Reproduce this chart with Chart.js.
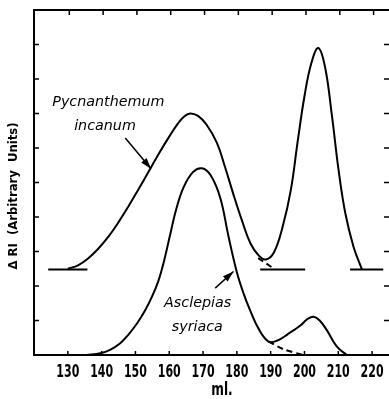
<!DOCTYPE html>
<html>
<head>
<meta charset="utf-8">
<script src="https://cdn.jsdelivr.net/npm/chart.js@4/dist/chart.umd.min.js"></script>
<style>
  body { margin: 0; background: #fff; }
  #wrap { width: 389px; height: 399px; }
</style>
</head>
<body>
<div id="wrap"><canvas id="riChart"></canvas></div>
<script>
// elution volume (ml) and detector response (arbitrary units)
const xTicks = [130, 140, 150, 160, 170, 180, 190, 200, 210, 220];
const yTicks = [1, 2, 3, 4, 5, 6, 7, 8, 9];

const pycX = [130, 133, 136, 139, 142, 145, 148, 151, 154, 157, 160, 162.5, 164.5, 166.2, 168.5, 171, 174.1, 176.5, 179, 181.5, 184, 186.5, 188.6, 191, 193.5, 196, 198, 200, 202, 204.1, 206.1, 208.1, 210.1, 212.1, 214.5, 217];
const pycY = [2.5, 2.6, 2.8, 3.08, 3.43, 3.85, 4.32, 4.82, 5.33, 5.85, 6.33, 6.7, 6.92, 7.0, 6.93, 6.68, 6.15, 5.45, 4.65, 3.9, 3.24, 2.88, 2.77, 2.98, 3.7, 4.8, 6.2, 7.5, 8.45, 8.9, 8.34, 6.95, 5.35, 4.1, 3.14, 2.48];
const pycDashX = [186.3, 191.3];
const pycDashY = [2.81, 2.48];
const pycBaseX = [[124.2, 135.8], [186.9, 200.2], [213.5, 223.3]];
const pycBaseY = 2.48;

const ascX = [135.5, 139.6, 142.5, 145.5, 148, 150.5, 152.8, 154.9, 156.8, 158.3, 160.3, 162, 164.2, 167, 169.7, 172.3, 175.1, 177.5, 180, 182, 183.9, 186.5, 189.4, 192, 195, 198.7, 201, 202.7, 204.5, 206.6, 209.6, 212.5];
const ascY = [0, 0.05, 0.15, 0.34, 0.6, 0.92, 1.28, 1.69, 2.15, 2.66, 3.5, 4.2, 4.85, 5.3, 5.41, 5.2, 4.55, 3.45, 2.4, 1.78, 1.3, 0.75, 0.39, 0.42, 0.6, 0.85, 1.05, 1.11, 1.0, 0.72, 0.24, 0];
const ascDashX = [189.4, 194, 199.7];
const ascDashY = [0.39, 0.16, 0];

// labels with their arrows (data units)
const labels = [
  { text: 'Pycnanthemum', x: 142, y: 7.33 },
  { text: 'incanum', x: 141, y: 6.64 },
  { text: 'Asclepias', x: 168.4, y: 1.51 },
  { text: 'syriaca', x: 168.3, y: 0.81 }
];
const arrows = [
  { from: [147.0, 6.29], to: [154.6, 5.4] },
  { from: [173.6, 1.94], to: [179.0, 2.42] }
];

const pts = (xs, ys) => xs.map((x, i) => ({ x: x, y: Array.isArray(ys) ? ys[i] : ys }));

const lineStyle = { borderColor: '#000', borderWidth: 2, pointRadius: 0, showLine: true, fill: false };

const datasets = [
  Object.assign({ data: pts(pycX, pycY), tension: 0.4 }, lineStyle),
  Object.assign({ data: pts(ascX, ascY), tension: 0.4 }, lineStyle),
  Object.assign({ data: pts(pycDashX, pycDashY), borderDash: [6, 4] }, lineStyle),
  Object.assign({ data: pts(ascDashX, ascDashY), borderDash: [6, 4], tension: 0.3 }, lineStyle)
];
pycBaseX.forEach(seg => datasets.push(Object.assign({ data: pts(seg, pycBaseY) }, lineStyle)));
arrows.forEach(a => datasets.push({ data: [{ x: a.from[0], y: a.from[1] }, { x: a.to[0], y: a.to[1] }], borderColor: '#000', borderWidth: 1.5, pointRadius: 0, showLine: true }));

// draw text squeezed horizontally, like the condensed lettering of the original
function squeezed(ctx, text, x, y, sx) {
  ctx.save();
  ctx.translate(x, y);
  ctx.scale(sx, 1);
  ctx.fillText(text, 0, 0);
  ctx.restore();
}

const extras = {
  id: 'extras',
  afterDraw(chart) {
    const ctx = chart.ctx;
    const xs = chart.scales.x, ys = chart.scales.y;
    const a = chart.chartArea;
    ctx.save();
    ctx.strokeStyle = '#000';
    ctx.fillStyle = '#000';
    // frame
    ctx.lineWidth = 2;
    ctx.beginPath();
    ctx.moveTo(a.right, a.top); ctx.lineTo(a.left, a.top); ctx.lineTo(a.left, a.bottom); ctx.lineTo(a.right, a.bottom);
    ctx.stroke();
    // inside ticks
    ctx.lineWidth = 1.5;
    ctx.beginPath();
    xTicks.forEach(v => {
      const px = xs.getPixelForValue(v);
      ctx.moveTo(px, a.bottom); ctx.lineTo(px, a.bottom - 4);
      ctx.moveTo(px + 1.5, a.top); ctx.lineTo(px + 1.5, a.top + 5);
    });
    yTicks.forEach(v => {
      const py = ys.getPixelForValue(v);
      ctx.moveTo(a.left, py); ctx.lineTo(a.left + 5, py);
      ctx.moveTo(a.right, py); ctx.lineTo(a.right - 5, py);
    });
    ctx.stroke();
    // arrow heads
    arrows.forEach(ar => {
      const x0 = xs.getPixelForValue(ar.from[0]), y0 = ys.getPixelForValue(ar.from[1]);
      const x1 = xs.getPixelForValue(ar.to[0]), y1 = ys.getPixelForValue(ar.to[1]);
      const ang = Math.atan2(y1 - y0, x1 - x0);
      const L = 11, W = 3.5;
      ctx.beginPath();
      ctx.moveTo(x1, y1);
      ctx.lineTo(x1 - L * Math.cos(ang) + W * Math.sin(ang), y1 - L * Math.sin(ang) - W * Math.cos(ang));
      ctx.lineTo(x1 - L * Math.cos(ang) - W * Math.sin(ang), y1 - L * Math.sin(ang) + W * Math.cos(ang));
      ctx.closePath();
      ctx.fill();
    });
    ctx.textAlign = 'center';
    ctx.textBaseline = 'middle';
    // x tick labels
    ctx.font = 'bold 18px "DejaVu Sans Condensed", sans-serif';
    xTicks.forEach(v => squeezed(ctx, String(v), xs.getPixelForValue(v), a.bottom + 17, 0.68));
    squeezed(ctx, 'ml.', 222, 390, 0.75);
    // italic species names
    ctx.font = 'italic 14.3px "DejaVu Sans", sans-serif';
    labels.forEach(l => ctx.fillText(l.text, xs.getPixelForValue(l.x), ys.getPixelForValue(l.y)));
    // y axis title
    ctx.translate(14, 196);
    ctx.rotate(-Math.PI / 2);
    ctx.font = 'bold 13px "DejaVu Sans Condensed", sans-serif';
    const title = '\u0394 RI  (Arbitrary  Units)';
    squeezed(ctx, title, 0, 0, 147 / ctx.measureText(title).width);
    ctx.restore();
  }
};

new Chart(document.getElementById('riChart'), {
  type: 'scatter',
  data: { datasets: datasets },
  options: {
    responsive: true,
    maintainAspectRatio: false,
    animation: false,
    layout: { padding: { top: 10, right: 0, left: 0, bottom: 0 } },
    plugins: { legend: { display: false }, tooltip: { enabled: false } },
    scales: {
      x: {
        type: 'linear', min: 120, max: 225,
        afterBuildTicks: s => { s.ticks = xTicks.map(v => ({ value: v })); },
        afterFit: s => { s.height = 44; s.paddingLeft = 0; s.paddingRight = 0; },
        grid: { display: false, drawTicks: false },
        border: { display: false },
        ticks: { display: false }
      },
      y: {
        type: 'linear', min: 0, max: 10,
        afterFit: s => { s.width = 34; s.paddingTop = 0; s.paddingBottom = 0; },
        grid: { display: false, drawTicks: false },
        border: { display: false },
        ticks: { display: false }
      }
    }
  },
  plugins: [extras]
});
</script>
</body>
</html>
